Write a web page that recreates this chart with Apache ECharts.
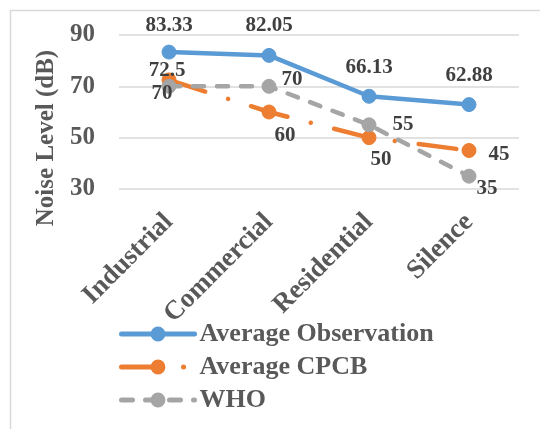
<!DOCTYPE html>
<html>
<head>
<meta charset="utf-8">
<script src="https://cdn.jsdelivr.net/npm/echarts@6/dist/echarts.min.js"></script>
<style>html,body{margin:0;padding:0;background:#fff;}#c{width:540px;height:429px;}</style>
</head>
<body>
<div id="c"></div>
<script>
const categories = ['Industrial', 'Commercial', 'Residential', 'Silence'];
const avgObservation = [83.33, 82.05, 66.13, 62.88];
const avgCPCB = [72.5, 60, 50, 45];
const who = [70, 70, 55, 35];
const yTicks = { min: 30, max: 90, interval: 20 };

const FONT = "'Times New Roman', 'Liberation Serif', serif";
const BLUE = '#5B9BD5', ORANGE = '#ED7D31', GRAY = '#A5A5A5';

// label offsets (style only)
const obsOffsets = [[0, -27], [0, -30], [0, -29], [0, -29]];
const cpcbOffsets = [[-2, -9], [16, 24], [12, 22], [30, 4]];
const whoOffsets = [[-7, 7], [23, -7], [34, 0], [18, 12]];

function withLabels(values, offsets) {
  return values.map((v, i) => ({ value: v, label: { offset: offsets[i] } }));
}

const labelBase = {
  show: true, position: 'inside', color: '#404040',
  fontFamily: FONT, fontWeight: 'bold', fontSize: 21
};

const chart = echarts.init(document.getElementById('c'), null, { renderer: 'canvas' });
chart.setOption({
  animation: false,
  backgroundColor: '#fff',
  graphic: [{
    type: 'rect', left: 8, top: 8, silent: true, z: -10,
    shape: { x: 0, y: 0, width: 1000, height: 1000 },
    style: { fill: 'none', stroke: '#d9d9d9', lineWidth: 1.5 }
  }],
  grid: { left: 119, right: 21, top: 35, bottom: 240, containLabel: false },
  xAxis: {
    type: 'category', data: categories, boundaryGap: true,
    axisLine: { show: false }, axisTick: { show: false },
    axisLabel: {
      rotate: 45, margin: 29, color: '#595959', fontFamily: FONT,
      fontWeight: 'bold', fontSize: 27, interval: 0, padding: [14, 0, 0, 0]
    }
  },
  yAxis: {
    type: 'value', min: yTicks.min, max: yTicks.max, interval: yTicks.interval,
    name: 'Noise Level (dB)', nameLocation: 'middle', nameGap: 53,
    nameTextStyle: { color: '#595959', fontFamily: FONT, fontWeight: 'bold', fontSize: 25, padding: [0, 52, 0, 0] },
    axisLine: { show: false }, axisTick: { show: false },
    axisLabel: { margin: 24, color: '#595959', fontFamily: FONT, fontWeight: 'bold', fontSize: 25 },
    splitLine: { lineStyle: { color: '#d9d9d9', width: 1.5 } }
  },
  legend: {
    orient: 'vertical', left: 114, top: 316, itemWidth: 73, itemHeight: 16, itemGap: 7,
    lineStyle: { width: 5 },
    textStyle: { color: '#595959', fontFamily: FONT, fontWeight: 'bold', fontSize: 26, lineHeight: 26 },
    data: ['Average Observation', 'Average CPCB', 'WHO']
  },
  series: [
    {
      name: 'Average Observation', type: 'line', data: withLabels(avgObservation, obsOffsets),
      symbol: 'circle', symbolSize: 14, color: BLUE,
      lineStyle: { color: BLUE, width: 4.5, cap: 'round' },
      itemStyle: { color: BLUE, borderColor: BLUE, borderWidth: 1 },
      label: labelBase, z: 2
    },
    {
      name: 'Average CPCB', type: 'line', data: withLabels(avgCPCB, cpcbOffsets),
      symbol: 'circle', symbolSize: 14, color: ORANGE,
      lineStyle: { color: ORANGE, width: 4.5, type: [38, 24, 0.1, 24], cap: 'round' },
      itemStyle: { color: ORANGE, borderColor: ORANGE, borderWidth: 1 },
      label: labelBase, z: 3
    },
    {
      name: 'WHO', type: 'line', data: withLabels(who, whoOffsets),
      symbol: 'circle', symbolSize: 14, color: GRAY,
      lineStyle: { color: GRAY, width: 4.5, type: [11, 13], cap: 'round' },
      itemStyle: { color: GRAY, borderColor: GRAY, borderWidth: 1 },
      label: labelBase, z: 4
    }
  ]
});
</script>
</body>
</html>
